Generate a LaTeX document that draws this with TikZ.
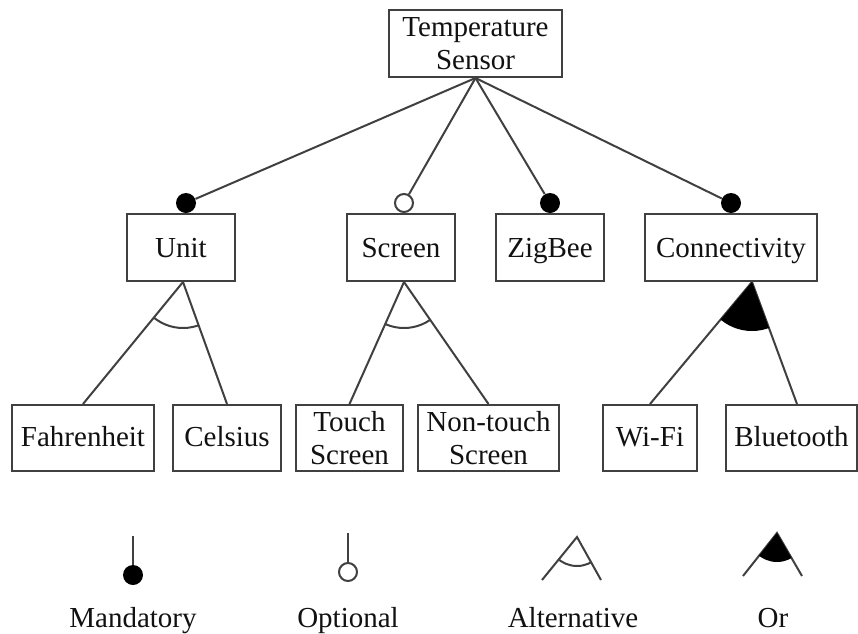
\documentclass[tikz,border=0pt]{standalone}
\usepackage{fontspec}
\setmainfont{Liberation Serif}
\definecolor{linegray}{HTML}{404040}
\definecolor{inkblack}{HTML}{111111}
\tikzset{
  featbox/.style={draw=linegray, line width=1pt, fill=white, inner sep=0pt,
    align=center, text=inkblack, font=\fontsize{14.5pt}{16.5pt}\selectfont},
  midline/.style={text height=11pt, text depth=1.5pt},
  leafline/.style={text height=10.5pt, text depth=2pt},
  conn/.style={draw=linegray, line width=1pt},
  mandot/.style={circle, fill=black, inner sep=0pt, minimum size=10pt},
  optdot/.style={circle, draw=linegray, fill=white, line width=1pt, inner sep=0pt, minimum size=9pt},
  legendtext/.style={anchor=base, inner sep=0pt, text=inkblack, font=\fontsize{14.5pt}{16.5pt}\selectfont}
}
\begin{document}
\begin{tikzpicture}[x=0.5pt, y=-0.5pt]
\useasboundingbox (0,0) rectangle (858,633);

% root feature
\node[featbox, minimum width=86.5pt, minimum height=33.5pt] (root) at (475.5,43.5) {Temperature\\Sensor};

% second level
\node[featbox, midline, minimum width=54pt, minimum height=33.5pt] (unit)   at (181,247.5) {Unit};
\node[featbox, midline, minimum width=54pt, minimum height=33.5pt] (screen) at (401,247.5) {Screen};
\node[featbox, midline, minimum width=54pt, minimum height=33.5pt] (zigbee) at (550,247.5) {ZigBee};
\node[featbox, midline, minimum width=86pt, minimum height=33.5pt] (connectivity) at (731,247.5) {Connectivity};

% leaves
\node[featbox, leafline, minimum width=71pt,   minimum height=33pt] (fahr)     at (83,438)    {Fahrenheit};
\node[featbox, leafline, minimum width=54pt,   minimum height=33pt] (celsius)  at (227,438)   {Celsius};
\node[featbox, minimum width=53.5pt, minimum height=33pt] (touch)    at (349.5,438) {Touch\\Screen};
\node[featbox, minimum width=70.5pt, minimum height=33pt] (nontouch) at (488.5,438) {Non-touch\\Screen};
\node[featbox, leafline, minimum width=47pt,   minimum height=33pt] (wifi)     at (650,438)   {Wi-Fi};
\node[featbox, leafline, minimum width=65.5pt, minimum height=33pt] (bt)       at (791.5,438) {Bluetooth};

% markers on the root edges
\node[mandot] (mUnit)   at (186,203) {};
\node[optdot] (oScreen) at (404,203) {};
\node[mandot] (mZig)    at (550,203) {};
\node[mandot] (mConn)   at (731,203) {};

\draw[conn] (root.south) -- (mUnit);
\draw[conn] (root.south) -- (oScreen);
\draw[conn] (root.south) -- (mZig);
\draw[conn] (root.south) -- (mConn);

% group apexes
\coordinate (uA) at ([xshift=1pt]unit.south);
\coordinate (sA) at ([xshift=1.5pt]screen.south);
\coordinate (cA) at ([xshift=10.5pt]connectivity.south);
\coordinate (btTop) at ([xshift=2.75pt]bt.north);

\draw[conn] (uA) -- (fahr.north);
\draw[conn] (uA) -- (celsius.north);
\draw[conn] (sA) -- (touch.north);
\draw[conn] (sA) -- (nontouch.north);
\draw[conn] (cA) -- (wifi.north);
\draw[conn] (cA) -- (btTop);

% alternative arcs
\begin{scope}
  \clip (uA) -- (fahr.north) -- (celsius.north) -- cycle;
  \draw[conn] (uA) circle (23pt);
\end{scope}
\begin{scope}
  \clip (sA) -- (touch.north) -- (nontouch.north) -- cycle;
  \draw[conn] (sA) circle (23pt);
\end{scope}
% or sector
\begin{scope}
  \clip (cA) circle (24.5pt);
  \fill[black] (cA) -- (wifi.north) -- (btTop) -- cycle;
\end{scope}

% legend
\coordinate (lmTop) at (133,536);
\node[mandot] (lmDot) at (133,575) {};
\draw[conn] (lmTop) -- (lmDot);
\node[legendtext] (lmText) at (133,627) {Mandatory};

\coordinate (loTop) at (348,533);
\node[optdot] (loDot) at (348,572) {};
\draw[conn] (loTop) -- (loDot);
\node[legendtext] (loText) at (348,627) {Optional};

\coordinate (laA) at (577,537);
\coordinate (laL) at (542,580);
\coordinate (laR) at (601,580);
\draw[conn] (laL) -- (laA) -- (laR);
\begin{scope}
  \clip (laA) -- (laL) -- (laR) -- cycle;
  \draw[conn] (laA) circle (14.5pt);
\end{scope}
\node[legendtext] (laText) at (573,627) {Alternative};

\coordinate (lrA) at (777,533);
\coordinate (lrL) at (743,576);
\coordinate (lrR) at (802,576);
\draw[conn] (lrL) -- (lrA) -- (lrR);
\begin{scope}
  \clip (lrA) circle (14.5pt);
  \fill[black] (lrA) -- (lrL) -- (lrR) -- cycle;
\end{scope}
\node[legendtext] (lrText) at (773,627) {Or};
\end{tikzpicture}
\end{document}
